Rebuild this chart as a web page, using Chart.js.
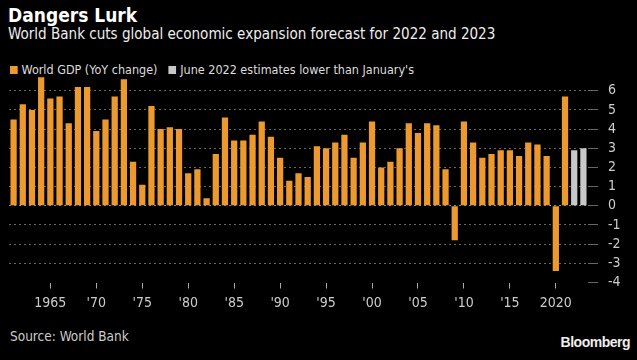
<!DOCTYPE html>
<html lang="en">
<head>
    <meta charset="UTF-8">
    <title>Dangers Lurk</title>
    <style>
        body {
            margin: 0;
            background: #000;
            color: #fff;
            font-family: 'DejaVu Sans Condensed', 'DejaVu Sans', sans-serif;
            width: 637px;
            height: 360px;
            overflow: hidden;
            position: relative;
        }

        .title {
            position: absolute;
            left: 8px;
            top: 4px;
            font-size: 19px;
            font-weight: bold;
        }

        .subtitle {
            position: absolute;
            left: 8px;
            top: 24px;
            font-size: 16px;
            color: #eee;
            transform: scaleX(0.94);
            transform-origin: left top;
        }

        .legend {
            position: absolute;
            left: 10px;
            top: 62px;
            font-size: 13px;
            color: #ddd;
            transform: scaleX(0.96);
            transform-origin: left top;
        }

        .legend span.box {
            display: inline-block;
            width: 8px;
            height: 8px;
            margin-right: 4px;
        }

        .chart-box {
            position: absolute;
            left: 0;
            top: 57px;
            width: 637px;
            height: 263px;
        }

        .source {
            position: absolute;
            left: 10px;
            top: 328px;
            font-size: 13.5px;
            color: #ccc;
        }

        .brand {
            position: absolute;
            right: 7px;
            top: 334px;
            font-family: 'Liberation Sans', Arial, sans-serif;
            font-size: 14px;
            font-weight: bold;
            letter-spacing: -0.5px;
            color: #eee;
        }
    </style>
</head>
<body>
    <div class="title">Dangers Lurk</div>
    <div class="subtitle">World Bank cuts global economic expansion forecast for 2022 and 2023</div>
    <div class="legend">
        <span class="box" style="background:#ec9a2f"></span>World GDP (YoY change)
        <span class="box" style="background:#c8c8c8; margin-left:8px"></span>June 2022 estimates lower than January's
    </div>
    <div class="chart-box">
        <canvas id="gdpChart"></canvas>
    </div>
    <div class="source">Source: World Bank</div>
    <div class="brand">Bloomberg</div>

<script src="https://cdn.jsdelivr.net/npm/chart.js"></script>
<script>
    // categories
    const years = [
        '1961', '1962', '1963', '1964', '1965', '1966', '1967', '1968', '1969', '1970',
        '1971', '1972', '1973', '1974', '1975', '1976', '1977', '1978', '1979', '1980',
        '1981', '1982', '1983', '1984', '1985', '1986', '1987', '1988', '1989', '1990',
        '1991', '1992', '1993', '1994', '1995', '1996', '1997', '1998', '1999', '2000',
        '2001', '2002', '2003', '2004', '2005', '2006', '2007', '2008', '2009', '2010',
        '2011', '2012', '2013', '2014', '2015', '2016', '2017', '2018', '2019', '2020',
        '2021', '2022', '2023'
    ];

    // World GDP YoY change, 1961-2021
    const gdpGrowth = [
        4.5, 5.3, 5.0, 6.7, 5.6, 5.7, 4.3, 6.2, 6.2, 3.9,
        4.5, 5.7, 6.6, 2.3, 1.1, 5.2, 4.0, 4.1, 4.0, 1.7,
        1.9, 0.4, 2.7, 4.6, 3.4, 3.4, 3.7, 4.4, 3.6, 2.5,
        1.3, 1.7, 1.5, 3.1, 3.0, 3.3, 3.7, 2.5, 3.3, 4.4,
        2.0, 2.3, 3.0, 4.3, 3.8, 4.3, 4.2, 1.9, -1.8, 4.4,
        3.3, 2.5, 2.7, 2.9, 2.9, 2.6, 3.3, 3.2, 2.6, -3.4,
        5.7
    ];

    // June 2022 estimates
    const estimateYears = ['2022', '2023'];
    const estimateValues = [2.9, 3.0];

    // x tick labels shown under the axis
    const tickYears = ['1965', '1970', '1975', '1980', '1985', '1990', '1995', '2000', '2005', '2010', '2015', '2020'];
    const tickLabels = ['1965', "'70", "'75", "'80", "'85", "'90", "'95", "'00", "'05", "'10", "'15", '2020'];

    const yTicks = [-4, -3, -2, -1, 0, 1, 2, 3, 4, 5, 6];

    const tickFont = "'DejaVu Sans Condensed', 'DejaVu Sans', sans-serif";

    const ctx = document.getElementById('gdpChart').getContext('2d');
    new Chart(ctx, {
        type: 'bar',
        data: {
            labels: years,
            datasets: [
                {
                    label: 'World GDP (YoY change)',
                    data: gdpGrowth,
                    backgroundColor: '#ec9a2f',
                    grouped: false,
                    barPercentage: 0.68,
                    categoryPercentage: 1
                },
                {
                    label: "June 2022 estimates lower than January's",
                    data: estimateYears.map((y, i) => ({ x: y, y: estimateValues[i] })),
                    backgroundColor: '#c8c8c8',
                    grouped: false,
                    barPercentage: 0.68,
                    categoryPercentage: 1
                }
            ]
        },
        options: {
            responsive: true,
            maintainAspectRatio: false,
            animation: false,
            layout: { padding: { left: 9, right: 0, top: 0, bottom: 0 } },
            plugins: {
                legend: { display: false },
                tooltip: { enabled: false }
            },
            scales: {
                x: {
                    border: { display: false },
                    grid: {
                        offset: false,
                        drawOnChartArea: false,
                        drawTicks: true,
                        tickLength: 6,
                        tickColor: '#aaa'
                    },
                    ticks: {
                        autoSkip: false,
                        maxRotation: 0,
                        padding: 6,
                        color: '#ccc',
                        font: { family: tickFont, size: 14 },
                        callback: function (value) {
                            const idx = tickYears.indexOf(years[value]);
                            return idx === -1 ? null : tickLabels[idx];
                        }
                    },
                    afterFit: function (scale) { scale.height = 37.5; }
                },
                y: {
                    position: 'right',
                    min: -4,
                    max: 6.8,
                    afterBuildTicks: function (scale) {
                        scale.ticks = yTicks.map(v => ({ value: v }));
                    },
                    border: { display: false, dash: [2, 3] },
                    grid: {
                        color: function (c) {
                            if (c.tick && c.tick.value === -4) return 'rgba(0,0,0,0)';
                            return c.tick && c.tick.value === 0 ? '#888' : '#666';
                        },
                        tickColor: '#666',
                        tickLength: 10,
                        lineWidth: 1
                    },
                    ticks: {
                        autoSkip: false,
                        padding: 10,
                        color: '#ccc',
                        font: { family: tickFont, size: 14 }
                    },
                    afterFit: function (scale) { scale.width = 49; }
                }
            }
        }
    });
</script>
</body>
</html>
